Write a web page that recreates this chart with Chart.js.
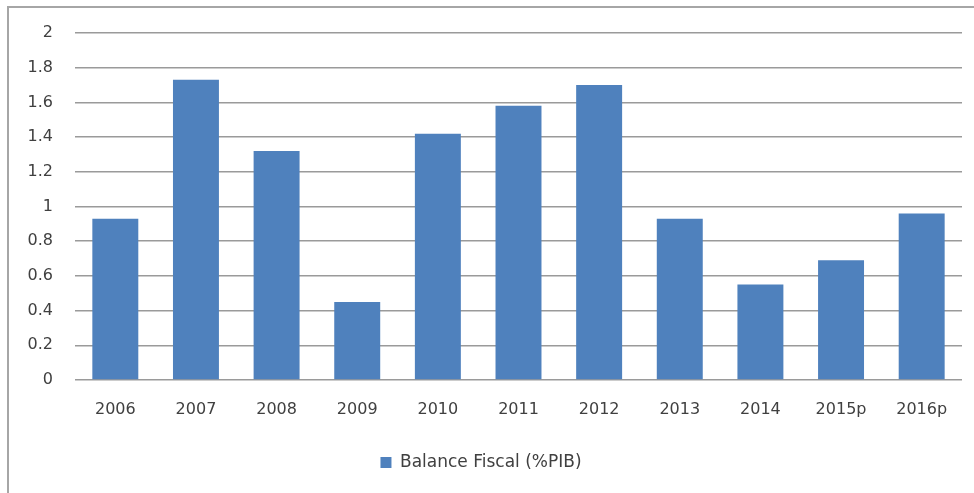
<!DOCTYPE html>
<html>
<head>
<meta charset="utf-8">
<script src="https://cdn.jsdelivr.net/npm/chart.js@4"></script>
<style>
  html, body { margin: 0; padding: 0; background: #fff; }
  #wrap { position: relative; width: 974px; height: 493px; }
  #frame { position: absolute; left: 7px; top: 6px; width: 980px; height: 500px;
           border-top: 2px solid #a6a6a6; border-left: 2px solid #a6a6a6; pointer-events: none; }
  canvas { position: absolute; left: 0; top: 0; }
</style>
</head>
<body>
<div id="wrap">
  <canvas id="c" width="974" height="493"></canvas>
  <div id="frame"></div>
</div>
<script>
const categories = ["2006", "2007", "2008", "2009", "2010", "2011", "2012", "2013", "2014", "2015p", "2016p"];
const balanceFiscal = [0.93, 1.73, 1.32, 0.45, 1.42, 1.58, 1.70, 0.93, 0.55, 0.69, 0.96];
const seriesName = "Balance Fiscal (%PIB)";

const FONT = "'DejaVu Sans', sans-serif";
new Chart(document.getElementById('c'), {
  type: 'bar',
  data: {
    labels: categories,
    datasets: [{
      label: seriesName,
      data: balanceFiscal,
      backgroundColor: '#4f81bd',
      borderColor: '#4f81bd',
      borderWidth: 0,
      categoryPercentage: 1.0,
      barPercentage: 0.57
    }]
  },
  options: {
    responsive: false,
    animation: false,
    layout: { padding: { left: 0, right: 12, top: 33, bottom: 12 } },
    plugins: {
      tooltip: { enabled: false },
      legend: {
        position: 'bottom',
        labels: {
          boxWidth: 11, boxHeight: 11, padding: 10,
          color: '#404040',
          font: { family: FONT, size: 17 }
        }
      }
    },
    scales: {
      x: {
        grid: { display: false, drawTicks: false },
        border: { display: false },
        ticks: { color: '#404040', padding: 20, font: { family: FONT, size: 16 }, maxRotation: 0 },
        afterFit: (s) => { s.height = 64; }
      },
      y: {
        min: 0, max: 2,
        ticks: {
          stepSize: 0.2, color: '#404040', padding: 22, font: { family: FONT, size: 16 },
          callback: (v) => String(Math.round(v * 10) / 10)
        },
        grid: { color: '#9a9a9a', lineWidth: 1.5, drawTicks: false },
        border: { display: false },
        afterFit: (s) => { s.width = 75; }
      }
    }
  }
});
</script>
</body>
</html>
